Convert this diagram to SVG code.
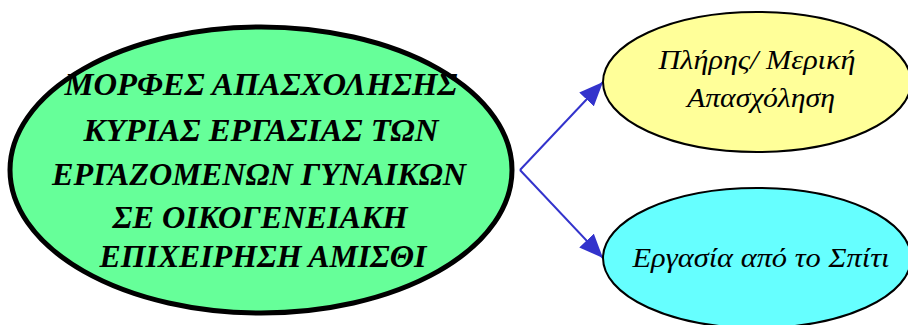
<svg xmlns="http://www.w3.org/2000/svg" width="908" height="325" viewBox="0 0 908 325">
<style>
.main{font-family:"Liberation Serif","DejaVu Serif",serif;font-style:italic;font-weight:bold;font-size:32px;fill:#000;text-anchor:middle}
.sub{font-family:"Liberation Serif","DejaVu Serif",serif;font-style:italic;font-size:27px;fill:#000;text-anchor:middle}
.edge{stroke:#3333cc;stroke-width:2;fill:none}
</style>
<defs>
<marker id="arr" viewBox="0 0 10 10" refX="10" refY="5" markerWidth="11" markerHeight="11" markerUnits="userSpaceOnUse" orient="auto">
<path d="M0,0 L10,5 L0,10 z" fill="#3333cc"/>
</marker>
<marker id="arrow" viewBox="0 0 24 20" refX="24" refY="10" markerWidth="24" markerHeight="20" markerUnits="userSpaceOnUse" orient="auto">
<path d="M0,0 L24,10 L0,20 z" fill="#3333cc"/>
</marker>
</defs>
<g id="connectors">
<path class="edge" d="M520,170 L603,82" marker-end="url(#arrow)"/>
<path class="edge" d="M520,170 L603,258" marker-end="url(#arrow)"/>
</g>
<g id="node-main">
<ellipse cx="261" cy="170" rx="251" ry="143" fill="#66ff99" stroke="#000" stroke-width="5"/>
<text class="main" x="261" y="95" textLength="393" lengthAdjust="spacingAndGlyphs">ΜΟΡΦΕΣ ΑΠΑΣΧΟΛΗΣΗΣ</text>
<text class="main" x="261" y="141" textLength="355" lengthAdjust="spacingAndGlyphs">ΚΥΡΙΑΣ ΕΡΓΑΣΙΑΣ ΤΩΝ</text>
<text class="main" x="259" y="185" textLength="414" lengthAdjust="spacingAndGlyphs">ΕΡΓΑΖΟΜΕΝΩΝ ΓΥΝΑΙΚΩΝ</text>
<text class="main" x="260" y="228" textLength="295" lengthAdjust="spacingAndGlyphs">ΣΕ ΟΙΚΟΓΕΝΕΙΑΚΗ</text>
<text class="main" x="263" y="267" textLength="327" lengthAdjust="spacingAndGlyphs">ΕΠΙΧΕΙΡΗΣΗ ΑΜΙΣΘΙ</text>
</g>
<g id="node-full-part">
<ellipse cx="757" cy="82" rx="154" ry="70" fill="#ffff99" stroke="#000" stroke-width="2"/>
<text class="sub" x="757" y="69" textLength="197" lengthAdjust="spacingAndGlyphs">Πλήρης/ Μερική</text>
<text class="sub" x="761" y="107" textLength="148" lengthAdjust="spacingAndGlyphs">Απασχόληση</text>
</g>
<g id="node-home">
<ellipse cx="757" cy="258" rx="154" ry="70" fill="#66ffff" stroke="#000" stroke-width="2"/>
<text class="sub" x="761" y="267" textLength="257" lengthAdjust="spacingAndGlyphs">Εργασία από το Σπίτι</text>
</g>
</svg>
